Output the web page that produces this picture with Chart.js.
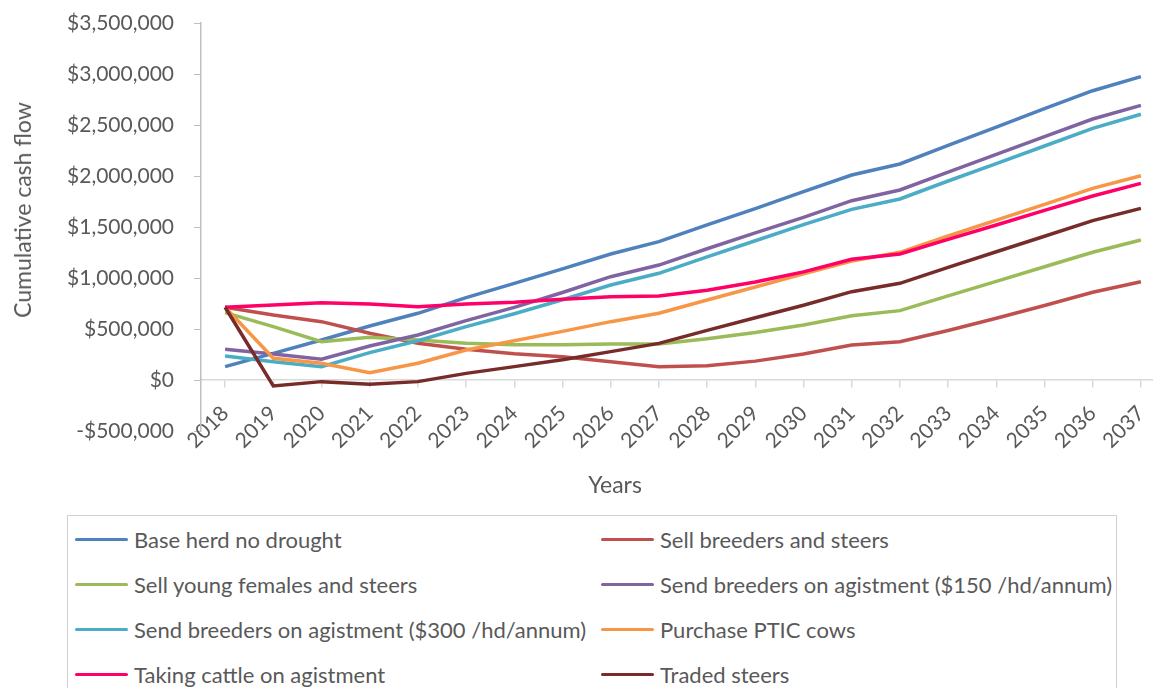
<!DOCTYPE html>
<html lang="en">
<head>
    <meta charset="UTF-8">
    <title>Cumulative cash flow</title>
    <script src="https://cdn.jsdelivr.net/npm/chart.js"></script>
    <style>
        body {
            margin: 0;
            width: 1153px;
            height: 688px;
            overflow: hidden;
            background: #fff;
            font-family: Lato, 'Open Sans', sans-serif;
            color: #595959;
            position: relative;
        }
        #chart {
            position: absolute;
            left: 0;
            top: 0;
        }
        .axis-title {
            position: absolute;
            font-size: 23px;
            white-space: nowrap;
        }
        #yTitle {
            left: 22px;
            top: 210px;
            transform: translate(-50%, -50%) rotate(-90deg);
        }
        #xTitle {
            left: 615px;
            top: 484px;
            transform: translate(-50%, -50%);
        }
        #legend {
            position: absolute;
            left: 67px;
            top: 515px;
            width: 1050px;
            height: 200px;
            border: 1px solid #d0d0d0;
            box-sizing: border-box;
        }
        .item {
            position: absolute;
            height: 24px;
            display: flex;
            align-items: center;
            font-size: 22px;
            white-space: nowrap;
        }
        .item span.swatch {
            display: inline-block;
            width: 53px;
            height: 3px;
            border-radius: 2px;
            margin-right: 6px;
        }
    </style>
</head>
<body>
    <canvas id="chart" width="1165" height="500"></canvas>
    <div class="axis-title" id="yTitle">Cumulative cash flow</div>
    <div class="axis-title" id="xTitle">Years</div>
    <div id="legend"></div>

    <script>
        const years = ['2018', '2019', '2020', '2021', '2022', '2023', '2024', '2025', '2026', '2027',
                       '2028', '2029', '2030', '2031', '2032', '2033', '2034', '2035', '2036', '2037'];

        const baseHerd = [131000, 261000, 392000, 529000, 654000, 807000, 948000, 1090000, 1235000, 1356000,
                          1520000, 1680000, 1846000, 2010000, 2118000, 2300000, 2480000, 2660000, 2836000, 2974000];
        const sellBreeders = [713000, 637000, 572000, 458000, 360000, 301000, 258000, 228000, 180000, 131000,
                              140000, 185000, 255000, 343000, 376000, 485000, 605000, 730000, 860000, 964000];
        const sellYoungFemales = [660000, 523000, 376000, 418000, 392000, 360000, 345000, 346000, 353000, 353000,
                                  405000, 465000, 540000, 630000, 680000, 825000, 967000, 1110000, 1252000, 1373000];
        const agist150 = [301000, 255000, 203000, 333000, 441000, 582000, 712000, 858000, 1013000, 1127000,
                          1287000, 1443000, 1595000, 1758000, 1863000, 2039000, 2213000, 2386000, 2559000, 2693000];
        const agist300 = [235000, 180000, 131000, 268000, 385000, 523000, 650000, 787000, 931000, 1046000,
                          1207000, 1365000, 1523000, 1673000, 1775000, 1951000, 2122000, 2294000, 2467000, 2605000];
        const purchasePtic = [713000, 213000, 164000, 72000, 164000, 294000, 385000, 477000, 572000, 654000,
                              784000, 912000, 1040000, 1167000, 1252000, 1412000, 1567000, 1722000, 1879000, 2003000];
        const takingAgist = [713000, 735000, 758000, 745000, 719000, 745000, 762000, 791000, 817000, 824000,
                             880000, 960000, 1060000, 1183000, 1235000, 1379000, 1520000, 1663000, 1804000, 1928000];
        const tradedSteers = [713000, -59000, -16000, -42000, -16000, 65000, 131000, 198000, 278000, 359000,
                              486000, 610000, 733000, 866000, 948000, 1104000, 1257000, 1409000, 1562000, 1683000];

        const yMin = -500000;
        const yMax = 3500000;
        const yStep = 500000;

        const series = [
            { label: 'Base herd no drought', data: baseHerd, color: '#4F81BD' },
            { label: 'Sell breeders and steers', data: sellBreeders, color: '#C0504D' },
            { label: 'Sell young females and steers', data: sellYoungFemales, color: '#9BBB59' },
            { label: 'Send breeders on agistment ($150 /hd/annum)', data: agist150, color: '#8064A2' },
            { label: 'Send breeders on agistment ($300 /hd/annum)', data: agist300, color: '#4BACC6' },
            { label: 'Purchase PTIC cows', data: purchasePtic, color: '#F79646' },
            { label: 'Taking cattle on agistment', data: takingAgist, color: '#FF0066' },
            { label: 'Traded steers', data: tradedSteers, color: '#772C2A' }
        ];

        function money(v) {
            const s = '$' + Math.abs(v).toLocaleString('en-US');
            return v < 0 ? '-' + s : s;
        }

        new Chart(document.getElementById('chart'), {
            type: 'line',
            data: {
                labels: years,
                datasets: series.map((s, i) => ({
                    label: s.label,
                    data: s.data,
                    borderColor: s.color,
                    backgroundColor: s.color,
                    borderWidth: 3.5,
                    pointRadius: 0,
                    tension: 0,
                    order: series.length - i
                }))
            },
            options: {
                responsive: false,
                animation: false,
                layout: { padding: { top: 23, right: 0, bottom: 69, left: 0 } },
                plugins: {
                    legend: { display: false },
                    tooltip: { enabled: false }
                },
                scales: {
                    x: {
                        position: { y: 0 },   // axis crosses at $0, labels hang below it
                        offset: true,
                        grid: {
                            drawOnChartArea: false,
                            color: '#d9d9d9',
                            lineWidth: 1.5,
                            tickLength: 7
                        },
                        border: { display: true, color: '#d9d9d9', width: 1.5 },
                        ticks: {
                            autoSkip: false,
                            minRotation: 45,
                            maxRotation: 45,
                            padding: 14,
                            color: '#595959',
                            font: { family: 'Lato', size: 21 }
                        },
                        afterFit(scale) {
                            scale.paddingLeft = 0;
                            scale.paddingRight = 0;
                        }
                    },
                    y: {
                        min: yMin,
                        max: yMax,
                        ticks: {
                            stepSize: yStep,
                            padding: 20,
                            color: '#595959',
                            font: { family: 'Lato', size: 21 },
                            callback: v => money(v)
                        },
                        grid: {
                            drawOnChartArea: false,
                            color: '#bfbfbf',
                            tickColor: '#bfbfbf',
                            tickLength: 7
                        },
                        border: { display: true, color: '#bfbfbf', width: 1.5 },
                        afterFit(scale) {
                            scale.width = 201;
                            // tick padding should not push the plot area down
                            scale.paddingTop = 0;
                            scale.paddingBottom = 0;
                        }
                    }
                }
            }
        });

        // two-column legend box under the chart
        const legend = document.getElementById('legend');
        series.forEach((s, i) => {
            const el = document.createElement('div');
            el.className = 'item';
            el.style.left = (i % 2 === 0 ? 7 : 533) + 'px';
            el.style.top = (11 + Math.floor(i / 2) * 45) + 'px';
            el.innerHTML = '<span class="swatch" style="background:' + s.color + '"></span>';
            el.appendChild(document.createTextNode(s.label));
            legend.appendChild(el);
        });
    </script>
</body>
</html>
